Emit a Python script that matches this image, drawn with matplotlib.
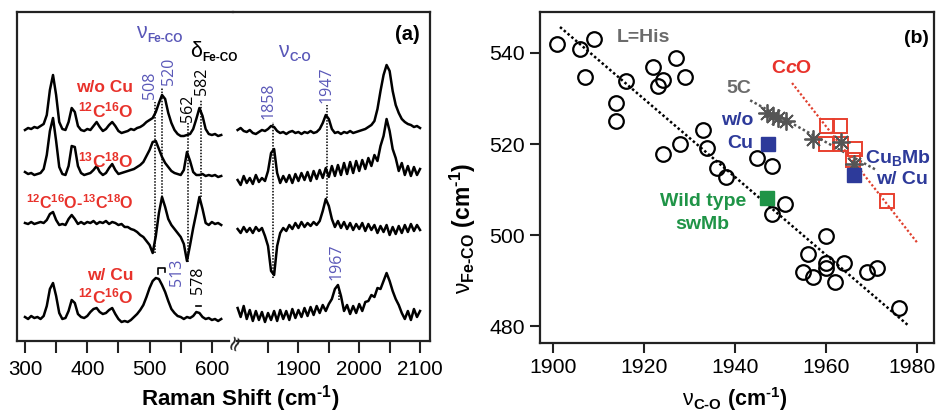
import matplotlib
matplotlib.use("Agg")
import matplotlib.pyplot as plt
from matplotlib.ticker import FixedLocator, NullFormatter
from matplotlib.transforms import ScaledTranslation

W, H = 936, 416
plt.rcParams['font.family'] = ['Liberation Sans', 'DejaVu Sans']
plt.rcParams['mathtext.fontset'] = 'custom'
plt.rcParams['mathtext.rm'] = 'Liberation Sans'
plt.rcParams['mathtext.it'] = 'Liberation Sans:italic'
plt.rcParams['mathtext.bf'] = 'Liberation Sans:bold'
plt.rcParams['mathtext.sf'] = 'Liberation Sans'
if 'mathtext.bfit' in plt.rcParams:
    plt.rcParams['mathtext.bfit'] = 'Liberation Sans:italic:bold'

# ---------------- Panel (a) data : Raman spectra (offset intensities, a.u.) ----
raman_low = list(range(300, 620, 5))      # cm-1 grid, low-frequency window
raman_high = list(range(1800, 2105, 5))   # cm-1 grid, high-frequency window

woCu_1216_low = [211, 213, 212, 214, 213, 215, 217, 226, 251, 266,
                 246, 219, 212, 211, 219, 233, 229, 215, 211, 210,
                 212, 211, 215, 219, 214, 210, 212, 216, 219, 215,
                 210, 208, 209, 210, 212, 211, 213, 214, 216, 219,
                 221, 223, 229, 238, 246, 242, 228, 218, 211, 207,
                 205, 205, 206, 207, 212, 222, 233, 225, 212, 207,
                 206, 207, 205, 206]
woCu_1318_low = [169, 167, 168, 166, 167, 168, 172, 186, 210, 223,
                 200, 174, 167, 166, 175, 195, 194, 175, 168, 166,
                 167, 168, 171, 175, 169, 166, 168, 173, 177, 171,
                 167, 168, 169, 170, 171, 172, 174, 176, 179, 185,
                 191, 199, 200, 192, 184, 178, 174, 170, 168, 167,
                 166, 171, 189, 180, 169, 166, 166, 167, 165, 166,
                 165, 166, 164, 165]
diff_low = [118, 117, 119, 117, 118, 119, 118, 121, 127, 129,
            121, 116, 117, 116, 122, 126, 122, 117, 119, 117,
            119, 118, 120, 117, 119, 118, 120, 117, 119, 118,
            116, 117, 114, 114, 112, 111, 109, 106, 104, 100,
            96, 88, 105, 128, 144, 134, 122, 116, 112, 108,
            104, 97, 80, 96, 113, 128, 144, 132, 118, 116,
            119, 117, 118, 116]
wCu_1216_low = [24, 22, 25, 23, 24, 22, 25, 35, 52, 58,
                45, 28, 22, 23, 30, 41, 38, 27, 24, 23,
                25, 29, 32, 33, 29, 27, 28, 31, 33, 27,
                22, 19, 20, 19, 21, 24, 27, 31, 36, 44,
                53, 60, 63, 62, 56, 49, 40, 32, 28, 25,
                24, 22, 24, 23, 25, 29, 28, 24, 22, 23,
                21, 22, 20, 22]

woCu_1216_high = [211, 213, 210, 209, 211, 208, 207, 209, 211, 210,
                  212, 215, 214, 210, 208, 209, 207, 209, 210, 208,
                  209, 207, 209, 208, 210, 208, 209, 212, 218, 226,
                  222, 212, 208, 209, 207, 209, 208, 210, 208, 209,
                  210, 211, 212, 214, 216, 220, 232, 250, 266, 276,
                  270, 250, 236, 228, 222, 219, 217, 216, 214, 215,
                  213]
woCu_1318_high = [161, 156, 165, 158, 163, 157, 166, 159, 163, 160,
                  170, 188, 192, 168, 158, 165, 159, 166, 158, 167,
                  160, 168, 161, 169, 160, 170, 162, 171, 163, 173,
                  164, 175, 165, 176, 166, 178, 167, 179, 168, 180,
                  170, 181, 172, 183, 175, 186, 180, 195, 205, 222,
                  210, 192, 183, 170, 178, 166, 175, 165, 174, 166,
                  172]
diff_high = [112, 108, 114, 109, 113, 108, 114, 110, 113, 105,
             95, 70, 66, 95, 108, 113, 110, 116, 112, 118,
             113, 119, 114, 118, 115, 119, 116, 120, 130, 142,
             135, 122, 114, 120, 113, 119, 112, 118, 111, 117,
             112, 118, 110, 117, 111, 116, 108, 115, 109, 116,
             106, 114, 107, 115, 108, 116, 109, 117, 110, 116,
             111]
wCu_1216_high = [33, 24, 35, 22, 31, 20, 30, 21, 29, 19,
                 28, 21, 30, 20, 31, 22, 30, 21, 32, 23,
                 31, 24, 33, 25, 34, 26, 35, 28, 36, 30,
                 37, 42, 52, 56, 45, 30, 36, 27, 35, 28,
                 37, 30, 39, 40, 46, 44, 53, 52, 60, 68,
                 60, 50, 42, 36, 28, 22, 30, 21, 32, 24,
                 30]

# peak markers: position, top and bottom of the dotted guide (a.u.)
peaks_low = [508, 520, 562, 582]
peaks_low_top = [239, 254, 218, 241]
peaks_low_bot = [88, 144, 79, 144]
peaks_high = [1858, 1947, 1967]
peaks_high_top = [219, 236, 53]
peaks_high_bot = [63, 143, 41]

# ---------------- Panel (b) data : nu(Fe-CO) vs nu(C-O) -----------------------
his_vco = [1900.9, 1905.9, 1909.0, 1907.0, 1916.0, 1913.8, 1913.8, 1922.0, 1924.2,
           1923.1, 1927.0, 1929.0, 1924.2, 1927.9, 1933.0, 1933.8, 1936.0, 1938.0,
           1944.8, 1948.1, 1951.0, 1948.1, 1960.0, 1956.0, 1954.9, 1957.1, 1960.0,
           1960.0, 1962.0, 1964.0, 1969.0, 1971.2, 1976.0]
his_vfeco = [542.0, 540.9, 543.1, 534.7, 533.8, 529.0, 525.0, 536.9, 534.0,
             532.7, 538.9, 534.7, 517.9, 519.9, 523.0, 519.2, 514.8, 512.8,
             517.0, 515.1, 506.9, 504.7, 499.8, 495.8, 491.9, 490.8, 493.9,
             492.8, 489.7, 493.9, 491.9, 492.8, 483.9]
his_fit_vco = [1901.5, 1978.0]
his_fit_vfeco = [545.7, 480.2]

fivec_vco = [1947.0, 1948.4, 1949.5, 1951.2, 1957.1, 1963.3, 1966.2]
fivec_vfeco = [526.8, 526.1, 525.7, 525.0, 521.0, 520.4, 515.7]
fivec_fit_vco = [1943.3, 1971.2]
fivec_fit_vfeco = [529.6, 514.2]

cco_vco = [1960.2, 1963.1, 1960.0, 1963.3, 1966.4, 1965.9, 1973.4]
cco_vfeco = [523.9, 523.9, 519.9, 520.1, 519.0, 516.4, 507.5]
cco_fit_vco = [1952.5, 1980.2]
cco_fit_vfeco = [533.4, 498.1]

cubmb_vco = [1947.3, 1966.2]
cubmb_vfeco = [520.1, 513.1]
wt_vco = [1947.0]
wt_vfeco = [508.2]

# ---------------- styles ------------------------------------------------------
BLUE_A = '#5a58b8'
RED = '#e8322b'
BLUE_B = '#2d3a9a'
GREEN = '#1f9447'
GRAY = '#6b6b6b'
SPINE = '#222222'


def rect(l, t, r, b):
    return [l / W, 1 - b / H, (r - l) / W, (b - t) / H]


def ptext(x, y, s, **kw):
    """Text placed at figure pixel position (x from left, y from top)."""
    return fig.text(x / W, 1 - y / H, s, **kw)


fig = plt.figure(figsize=(W / 100, H / 100), dpi=100)
ax1 = fig.add_axes(rect(17, 12, 233, 341))
ax2 = fig.add_axes(rect(233, 12, 430, 341))
axb = fig.add_axes(rect(540, 12, 934, 343))
ax1.patch.set_alpha(0)
ax2.patch.set_alpha(0)

for ax in (ax1, ax2, axb):
    for s in ax.spines.values():
        s.set_color(SPINE)
        s.set_linewidth(1.6)
    ax.tick_params(axis='both', which='both', direction='out', width=1.5,
                   color=SPINE, labelsize=14.8, pad=5)

# ---- panel (a)
ax1.set_xlim(287.2, 633.9)
ax2.set_xlim(1792.4, 2116.4)
for ax in (ax1, ax2):
    ax.set_ylim(0, 329)
    ax.set_yticks([])
    ax.tick_params(axis='x', which='both', length=8.5)
ax1.spines['right'].set_visible(False)
ax2.spines['left'].set_visible(False)
ax1.spines['bottom'].set_bounds(287.2, 628)
ax2.spines['bottom'].set_bounds(1799, 2116.4)
ax1.xaxis.set_major_locator(FixedLocator([300, 400, 500, 600]))
ax1.xaxis.set_minor_locator(FixedLocator([350, 450, 550]))
ax2.xaxis.set_major_locator(FixedLocator([1900, 2000, 2100]))
ax2.xaxis.set_minor_locator(FixedLocator([1850, 1950, 2050]))
ax1.xaxis.set_minor_formatter(NullFormatter())
ax2.xaxis.set_minor_formatter(NullFormatter())

for tr in (woCu_1216_low, woCu_1318_low, diff_low, wCu_1216_low):
    ax1.plot(raman_low, tr, color='black', lw=1.8, solid_joinstyle='round')
for tr in (woCu_1216_high, woCu_1318_high, diff_high, wCu_1216_high):
    ax2.plot(raman_high, tr, color='black', lw=1.8, solid_joinstyle='round')

for p, t, b in zip(peaks_low, peaks_low_top, peaks_low_bot):
    ax1.plot([p, p], [b, t], color='black', lw=1.1, ls=(0, (1, 1)))
for p, t, b in zip(peaks_high, peaks_high_top, peaks_high_bot):
    ax2.plot([p, p], [b, t], color='black', lw=1.1, ls=(0, (1, 1)))

num_font = dict(family=['Open Sans', 'DejaVu Sans'], fontsize=11.5, rotation=90,
                ha='center', va='center')
ax1.text(500, 256, '508', color=BLUE_A, **num_font)
ax1.text(531, 270, '520', color=BLUE_A, **num_font)
ax1.text(561, 233, '562', color='black', **num_font)
ax1.text(584, 260, '582', color='black', **num_font)
ax1.text(544, 69, '513', color=BLUE_A, **num_font)
ax1.text(578, 61, '578', color='black', **num_font)
ax2.text(1851.5, 240, '1858', color=BLUE_A, **num_font)
ax2.text(1947, 256, '1947', color=BLUE_A, **num_font)
ax2.text(1963.5, 79, '1967', color=BLUE_A, **num_font)

ax1.plot([513, 513, 524, 524], [67, 73, 73, 69], color='black', lw=1.2)
ax1.plot([574, 583], [35, 35], color='black', lw=1.2)

# band labels: large Greek letter + small bold subscript
main_kw = dict(fontsize=15.5, ha='center', va='baseline')
sub_kw = dict(fontsize=8.5, fontweight='bold', ha='left', va='baseline')
ptext(141, 38, 'ν', color=BLUE_A, **main_kw)
ptext(147.5, 42, 'Fe-CO', color=BLUE_A, **sub_kw)
ptext(196, 57, 'δ', color='black', **main_kw)
ptext(202.5, 61, 'Fe-CO', color='black', **sub_kw)
ptext(283, 57, 'ν', color=BLUE_A, **main_kw)
ptext(289.5, 61, 'C-O', color=BLUE_A, **sub_kw)
ax2.text(2080, 306, '(a)', fontsize=14.5, fontweight='bold', ha='center', va='center')

red_font = dict(fontsize=12.5, fontweight='bold', color=RED, ha='right', va='center')
ax1.text(474, 253, 'w/o Cu', **red_font)
ax1.text(474, 231, r'$\mathbf{^{12}C^{16}O}$', **red_font)
ax1.text(474, 181, r'$\mathbf{^{13}C^{18}O}$', **red_font)
ax1.text(474, 138, r'$\mathbf{^{12}C^{16}O‐^{13}C^{18}O}$', fontsize=11.6,
         **{k: v for k, v in red_font.items() if k != 'fontsize'})
ax1.text(474, 66, 'w/ Cu', **red_font)
ax1.text(474, 45, r'$\mathbf{^{12}C^{16}O}$', **red_font)

ptext(235, 342, '≈', fontsize=15, rotation=70, ha='center', va='center',
      color=SPINE, family=['DejaVu Sans'])
ptext(240, 399, r'Raman Shift (cm$^{\mathbf{‐1}}$)', fontsize=16,
      fontweight='bold', ha='center', va='center')

# ---- panel (b)
axb.set_xlim(1897.1, 1983.7)
axb.set_ylim(476.3, 549.0)
axb.set_xticks([1900, 1920, 1940, 1960, 1980])
axb.set_yticks([480, 500, 520, 540])
axb.tick_params(axis='both', length=7, pad=4, labelsize=15.3)
last = axb.get_xticklabels()[-1]
last.set_transform(last.get_transform() + ScaledTranslation(-0.05, 0, fig.dpi_scale_trans))

axb.plot(his_fit_vco, his_fit_vfeco, color='black', lw=1.8, ls=(0, (1, 1)), zorder=2)
axb.plot(fivec_fit_vco, fivec_fit_vfeco, color='#555555', lw=1.8, ls=(0, (1, 1)), zorder=2)
axb.plot(cco_fit_vco, cco_fit_vfeco, color='#e0402e', lw=1.6, ls=(0, (1, 1)), zorder=2)
axb.plot(his_vco, his_vfeco, 'o', mfc='none', mec='black', ms=10.5, mew=1.6, zorder=3)
axb.plot(cco_vco, cco_vfeco, 's', mfc='none', mec='#e8402f', ms=10, mew=1.4, zorder=3)
axb.plot(fivec_vco, fivec_vfeco, marker=(8, 2, 0), ls='none', color='#555555', ms=13,
         mew=1.3, zorder=4)
axb.plot(cubmb_vco, cubmb_vfeco, 's', color=BLUE_B, ms=9.5, zorder=5)
axb.plot(wt_vco, wt_vfeco, 's', color=GREEN, ms=9.5, zorder=5)

bf = dict(fontsize=14, fontweight='bold', ha='center', va='center')
axb.text(1919.8, 543.5, 'L=His', color=GRAY, **bf)
axb.text(1979.8, 543.1, '(b)', color='black', **bf)
axb.text(1952.3, 536.7, r'$\mathbf{C}\mathbfit{c}\mathbf{O}$', color=RED, **bf)
axb.text(1940.7, 532.3, '5C', color=GRAY, **bf)
axb.text(1940.4, 525.1, 'w/o', color=BLUE_B, **bf)
axb.text(1941.1, 520.2, 'Cu', color=BLUE_B, **bf)
axb.text(1933.0, 507.3, 'Wild type', color=GREEN, **bf)
axb.text(1932.7, 502.4, 'swMb', color=GREEN, **bf)
axb.text(1975.8, 516.9, r'$\mathbf{Cu_{B}Mb}$', color=BLUE_B, **bf)
axb.text(1976.7, 512.3, 'w/ Cu', color=BLUE_B, **bf)

ptext(735, 399, r'$\mathrm{\nu}_{\mathbf{C‐O}}$ (cm$^{\mathbf{‐1}}$)',
      fontsize=15.5, fontweight='bold', ha='center', va='center')
ptext(463, 228, r'$\mathrm{\nu}_{\mathbf{Fe‐CO}}$ (cm$^{\mathbf{‐1}}$)',
      fontsize=16.5, fontweight='bold', ha='center', va='center', rotation=90)

fig.savefig('out.png', dpi=100)
